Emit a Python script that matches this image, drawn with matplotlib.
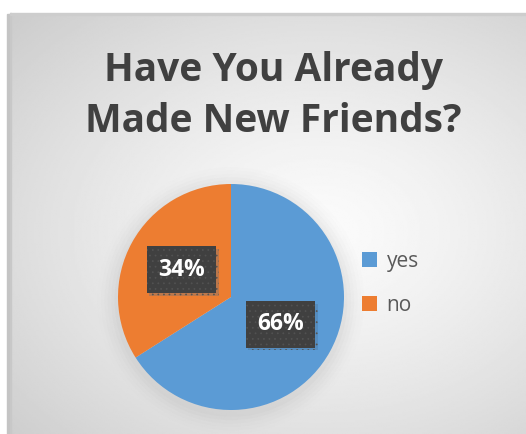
import numpy as np
import matplotlib.pyplot as plt
import matplotlib.patheffects as pe
from matplotlib.patches import Rectangle, Circle

# survey answers
answers = ['yes', 'no']
shares = [66, 34]
slice_colors = ['#5B9BD5', '#ED7D31']
title = 'Have You Already\nMade New Friends?'

plt.rcParams['hatch.linewidth'] = 0.5

W, H = 526, 434
fig = plt.figure(figsize=(W / 100, H / 100), dpi=100, facecolor='white')

def px_axes(x0, y0, w, h):
    # pixel box measured from the top-left corner
    return fig.add_axes([x0 / W, (H - y0 - h) / H, w / W, h / H])

# soft radial background of the chart area
bg = px_axes(11, 14, W - 11, H - 14)
gx, gy = np.meshgrid(np.linspace(0, 1, 300), np.linspace(0, 1, 260))
dist = np.sqrt(((gx - 0.6) / 0.95) ** 2 + ((gy - 0.52) / 0.85) ** 2)
shade = np.clip(0.985 - 0.22 * dist ** 1.3, 0.78, 1)
bg.imshow(shade, cmap='gray', vmin=0, vmax=1, aspect='auto', interpolation='bilinear')
bg.axis('off')

# frame lines
fig.patches.append(Rectangle((7 / W, 0), 2 / W, (H - 14) / H, transform=fig.transFigure,
                             color='#c4c4c4', zorder=5))
fig.patches.append(Rectangle((10 / W, 0), 1.2 / W, (H - 13) / H, transform=fig.transFigure,
                             color='#c8c8c8', zorder=5))
fig.patches.append(Rectangle((10 / W, (H - 14.5) / H), (W - 10) / W, 1.5 / H,
                             transform=fig.transFigure, color='#cdcdcd', zorder=5))

fig.text(273 / W, 1 - 96 / H, title, ha='center', va='center', fontsize=28,
         fontweight='bold', family='Open Sans', color='#404040', linespacing=1.38)

# pie
r = 113
ax = px_axes(231 - r, 297 - r, 2 * r, 2 * r)
for k, a in enumerate(np.linspace(0.05, 0.012, 6)):
    ax.add_patch(Circle((0.0, -0.03), 1.0 + 0.03 * (k + 1), color='#9a9a9a', alpha=a,
                        lw=0, zorder=0))
wedges, _, pcts = ax.pie(shares, colors=slice_colors, startangle=90, counterclock=False,
                         autopct='%d%%', pctdistance=0.5, radius=1,
                         wedgeprops=dict(linewidth=0))
for t in pcts:
    t.set_fontsize(16.5)
    t.set_fontweight('bold')
    t.set_family('Open Sans')
    t.set_color('white')
    t.set_zorder(4)
    t.set_bbox(dict(boxstyle='square,pad=0.5', fc='#404040', ec='#525252', lw=0,
                    hatch='...'))
    t.get_bbox_patch().set_path_effects([
        pe.SimplePatchShadow(offset=(2, -2), shadow_rgbFace='#4a6a8a', alpha=0.3),
        pe.Normal()])
ax.set_xlim(-1.2, 1.2)
ax.set_ylim(-1.2, 1.2)
ax.set_position([(231 - r * 1.2) / W, (H - 297 - r * 1.2) / H, 2.4 * r / W, 2.4 * r / H])
ax.axis('off')

leg = fig.legend(wedges, answers, loc='upper left', bbox_to_anchor=(343 / W, 1 - 232 / H),
                 frameon=False, handlelength=0.75, handleheight=0.75, handletextpad=0.45,
                 labelspacing=1.1, prop=dict(family='Open Sans', size=15))
for txt in leg.get_texts():
    txt.set_color('#595959')

fig.savefig('out.png', dpi=100, facecolor='white')
